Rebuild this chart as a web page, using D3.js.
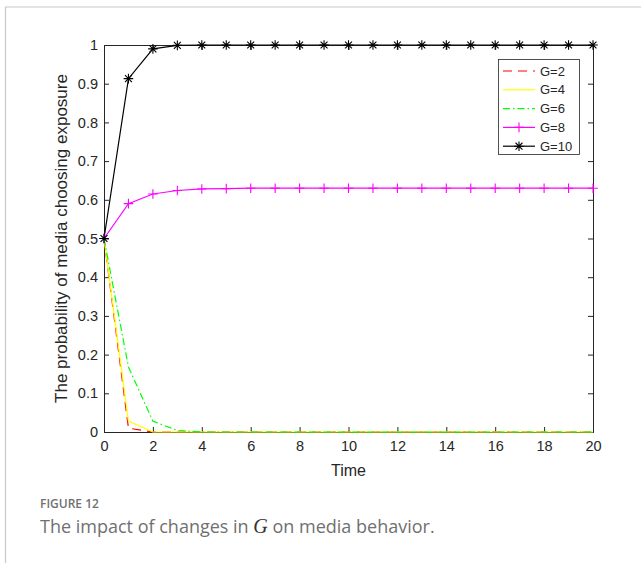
<!DOCTYPE html>
<html>
<head>
<meta charset="utf-8">
<script src="https://cdn.jsdelivr.net/npm/d3@7"></script>
<style>
  body { margin: 0; background: #fff; }
  svg { display: block; }
</style>
</head>
<body>
<div id="chart"></div>
<script>
const time = d3.range(0, 21);
const g2  = [0.5, 0.01, 0, 0, 0, 0, 0, 0, 0, 0, 0, 0, 0, 0, 0, 0, 0, 0, 0, 0, 0];
const g4  = [0.5, 0.028, 0, 0, 0, 0, 0, 0, 0, 0, 0, 0, 0, 0, 0, 0, 0, 0, 0, 0, 0];
const g6  = [0.5, 0.168, 0.028, 0.004, 0, 0, 0, 0, 0, 0, 0, 0, 0, 0, 0, 0, 0, 0, 0, 0, 0];
const g8  = [0.5, 0.59, 0.615, 0.624, 0.628, 0.629, 0.63, 0.63, 0.63, 0.63, 0.63, 0.63, 0.63, 0.63, 0.63, 0.63, 0.63, 0.63, 0.63, 0.63, 0.63];
const g10 = [0.5, 0.913, 0.99, 0.999, 1, 1, 1, 1, 1, 1, 1, 1, 1, 1, 1, 1, 1, 1, 1, 1, 1];
const seriesNames = ["G=2", "G=4", "G=6", "G=8", "G=10"];
const xTicks = d3.range(0, 21, 2);
const yTicks = d3.range(0, 11).map(d => d / 10);

const series = [
  {name: seriesNames[0], values: g2,  color: "#ff0000", dash: "9,6", marker: null},
  {name: seriesNames[1], values: g4,  color: "#ffff00", dash: null, marker: null},
  {name: seriesNames[2], values: g6,  color: "#00ff00", dash: "7,3,1.5,3", marker: null},
  {name: seriesNames[3], values: g8,  color: "#ff00ff", dash: null, marker: "plus"},
  {name: seriesNames[4], values: g10, color: "#000000", dash: null, marker: "star"}
];

const width = 641, height = 563;
const mLeft = 104, mRight = 593, mTop = 45, mBottom = 432;

const svg = d3.select("#chart").append("svg")
  .attr("width", width).attr("height", height);

// page frame
svg.append("line").attr("x1", 5).attr("x2", width).attr("y1", 7).attr("y2", 7)
  .attr("stroke", "#c8c8c8").attr("stroke-width", 1.2);
svg.append("line").attr("x1", 5.5).attr("x2", 5.5).attr("y1", 7).attr("y2", height)
  .attr("stroke", "#c8c8c8").attr("stroke-width", 1.2);

const x = d3.scaleLinear().domain([0, 20]).range([mLeft, mRight]);
const y = d3.scaleLinear().domain([0, 1]).range([mBottom, mTop]);

const font = "'Liberation Sans', Arial, sans-serif";

// axes (MATLAB style: ticks inside, box on)
const xAxis = svg.append("g").attr("transform", `translate(0,${mBottom})`)
  .call(d3.axisBottom(x).tickValues(xTicks).tickSize(-5).tickPadding(9).tickFormat(d3.format("d")));
const xTop = svg.append("g").attr("transform", `translate(0,${mTop})`)
  .call(d3.axisTop(x).tickValues(xTicks).tickSize(-5).tickFormat(""));
const yAxis = svg.append("g").attr("transform", `translate(${mLeft},0)`)
  .call(d3.axisLeft(y).tickValues(yTicks).tickSize(-5).tickPadding(6).tickFormat(d => d === 0 || d === 1 ? d3.format("d")(d) : d3.format(".1f")(d)));
const yRight = svg.append("g").attr("transform", `translate(${mRight},0)`)
  .call(d3.axisRight(y).tickValues(yTicks).tickSize(-5).tickFormat(""));

[xAxis, xTop, yAxis, yRight].forEach(a => {
  a.attr("font-family", null).attr("font-size", null);
  a.select(".domain").attr("stroke", "#262626").attr("stroke-width", 1);
  a.selectAll(".tick line").attr("stroke", "#262626");
  a.selectAll("text").attr("fill", "#262626").attr("font-family", font).attr("font-size", 14.5);
});

// axis labels
svg.append("text").attr("x", (mLeft + mRight) / 2).attr("y", 476)
  .attr("text-anchor", "middle").attr("fill", "#262626")
  .attr("font-family", font).attr("font-size", 16).text("Time");
svg.append("text")
  .attr("transform", `translate(67,${(mTop + mBottom) / 2}) rotate(-90)`)
  .attr("text-anchor", "middle").attr("fill", "#262626")
  .attr("font-family", font).attr("font-size", 17)
  .text("The probability of media choosing exposure");

// lines
const line = d3.line().x((d, i) => x(time[i])).y(d => y(d));
const lines = svg.append("g");
series.forEach(s => {
  lines.append("path").datum(s.values)
    .attr("d", line).attr("fill", "none")
    .attr("stroke", s.color).attr("stroke-width", 1.2)
    .attr("stroke-dasharray", s.dash);
});

function drawMarker(sel, type, cx, cy, color) {
  const r = 4.8;
  if (type === "plus") {
    sel.append("path").attr("d", `M${cx - r},${cy}H${cx + r}M${cx},${cy - r}V${cy + r}`)
      .attr("stroke", color).attr("stroke-width", 1.1);
  } else if (type === "star") {
    const d = r * 0.72;
    sel.append("path")
      .attr("d", `M${cx - r},${cy}H${cx + r}M${cx},${cy - r}V${cy + r}M${cx - d},${cy - d}L${cx + d},${cy + d}M${cx - d},${cy + d}L${cx + d},${cy - d}`)
      .attr("stroke", color).attr("stroke-width", 1.1);
  }
}

series.filter(s => s.marker).forEach(s => {
  const mg = svg.append("g");
  s.values.forEach((v, i) => drawMarker(mg, s.marker, x(time[i]), y(v), s.color));
});

// legend
const lg = svg.append("g");
lg.append("rect").attr("x", 498.5).attr("y", 59.5).attr("width", 81).attr("height", 95)
  .attr("fill", "#fff").attr("stroke", "#262626").attr("stroke-width", 0.8);
series.forEach((s, i) => {
  const ly = 71 + i * 18.8;
  lg.append("line").attr("x1", 503).attr("x2", 535).attr("y1", ly).attr("y2", ly)
    .attr("stroke", s.color).attr("stroke-width", 1.2).attr("stroke-dasharray", s.dash);
  if (s.marker) drawMarker(lg, s.marker, 519, ly, s.color);
  lg.append("text").attr("x", 540).attr("y", ly + 4.5).attr("fill", "#262626")
    .attr("font-family", font).attr("font-size", 13).text(s.name);
});

// caption
const capFont = "'Open Sans', Lato, sans-serif";
svg.append("text").attr("x", 40).attr("y", 508).attr("fill", "#707070")
  .attr("font-family", capFont).attr("font-size", 12).attr("font-weight", 600)
  .text("FIGURE 12");
const cap = svg.append("text").attr("x", 40).attr("y", 533).attr("fill", "#707070")
  .attr("font-family", capFont).attr("font-size", 18);
cap.append("tspan").text("The impact of changes in ");
cap.append("tspan").attr("font-family", "'Liberation Serif', 'DejaVu Serif', serif")
  .attr("font-style", "italic").attr("font-size", 20).attr("fill", "#333").text("G");
cap.append("tspan").text(" on media behavior.");
</script>
</body>
</html>
